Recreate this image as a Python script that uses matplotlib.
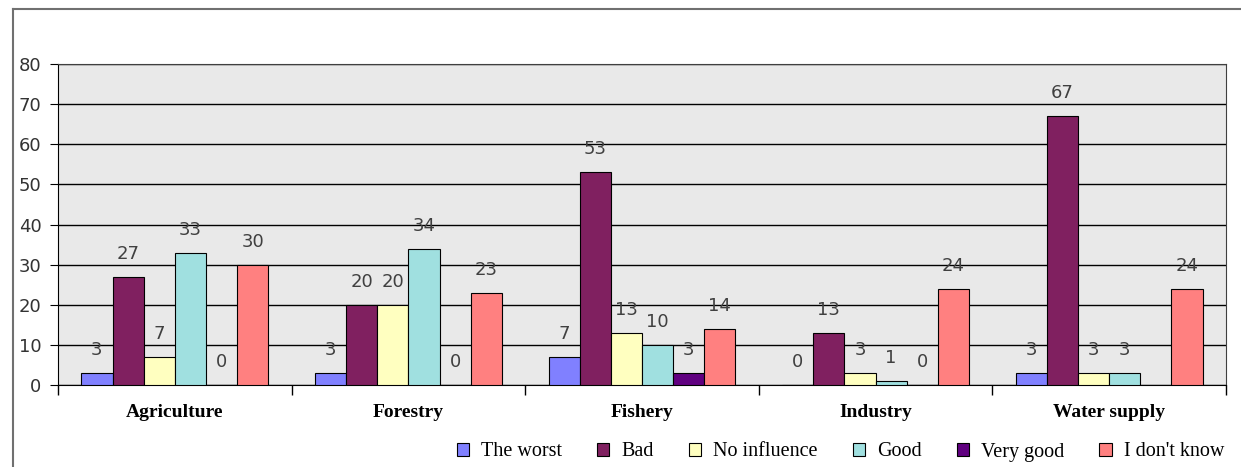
import numpy as np
import matplotlib.pyplot as plt

# Survey data: perceived influence per sector (%)
sectors = ["Agriculture", "Forestry", "Fishery", "Industry", "Water supply"]
series_names = ["The worst", "Bad", "No influence", "Good", "Very good", "I don't know"]
the_worst = [3, 3, 7, 0, 3]
bad = [27, 20, 53, 13, 67]
no_influence = [7, 20, 13, 3, 3]
good = [33, 34, 10, 1, 3]
very_good = [0, 0, 3, 0, np.nan]
dont_know = [30, 23, 14, 24, 24]

colors = ["#8080FF", "#802060", "#FFFFC0", "#A0E0E0", "#600080", "#FF8080"]
series = [the_worst, bad, no_influence, good, very_good, dont_know]

W, H = 1241, 467
fig = plt.figure(figsize=(W / 100, H / 100), dpi=100)
ax = fig.add_axes([58 / W, 1 - 385 / H, 1168 / W, 321 / H])

# outer chart frame (top and left edges visible)
fig.add_artist(plt.Line2D([13 / W, 13 / W], [0, 1 - 9 / H], color="#707070", lw=1.5))
fig.add_artist(plt.Line2D([13 / W, 1], [1 - 9 / H, 1 - 9 / H], color="#707070", lw=1.5))

ax.set_facecolor("#E9E9E9")
x = np.arange(len(sectors))
w = 0.8 / 6
for i, (vals, c) in enumerate(zip(series, colors)):
    pos = x - 0.4 + w * (i + 0.5)
    ax.bar(pos, vals, width=w, color=c, edgecolor="black", linewidth=0.8,
           label=series_names[i], zorder=3)
    for p, v in zip(pos, vals):
        if np.isnan(v):
            continue
        ax.annotate(f"{v:g}", (p, v), xytext=(0, 16.5), textcoords="offset points",
                    ha="center", va="center", fontsize=13, color="#404040",
                    family="DejaVu Sans", zorder=4)

ax.set_xlim(-0.5, len(sectors) - 0.5)
ax.set_ylim(0, 80)
ax.set_yticks(range(0, 81, 10))
ax.yaxis.grid(True, color="black", linewidth=1, zorder=1)
ax.set_axisbelow(True)
ax.tick_params(axis="y", length=6, labelsize=13, labelcolor="#333333", pad=6)
for t in ax.get_yticklabels():
    t.set_family("DejaVu Sans")

ax.set_xticks(x)
ax.set_xticklabels(sectors, family="Liberation Serif", fontweight="bold", fontsize=14)
ax.tick_params(axis="x", length=0, pad=14)
ax.set_xticks(np.arange(len(sectors) + 1) - 0.5, minor=True)
ax.tick_params(axis="x", which="minor", length=7, width=1, direction="out")

for s in ["top", "right"]:
    ax.spines[s].set_color("#404040")
ax.spines["left"].set_color("black")
ax.spines["bottom"].set_color("black")

ax.legend(loc="center right", bbox_to_anchor=(1224 / W, 1 - 452 / H),
          bbox_transform=fig.transFigure, ncol=6, frameon=False,
          prop={"family": "Liberation Serif", "size": 14.5}, handlelength=0.6,
          handleheight=0.6, handletextpad=0.6, columnspacing=1.75, borderaxespad=0,
          borderpad=0)

fig.savefig("out.png", dpi=100)
